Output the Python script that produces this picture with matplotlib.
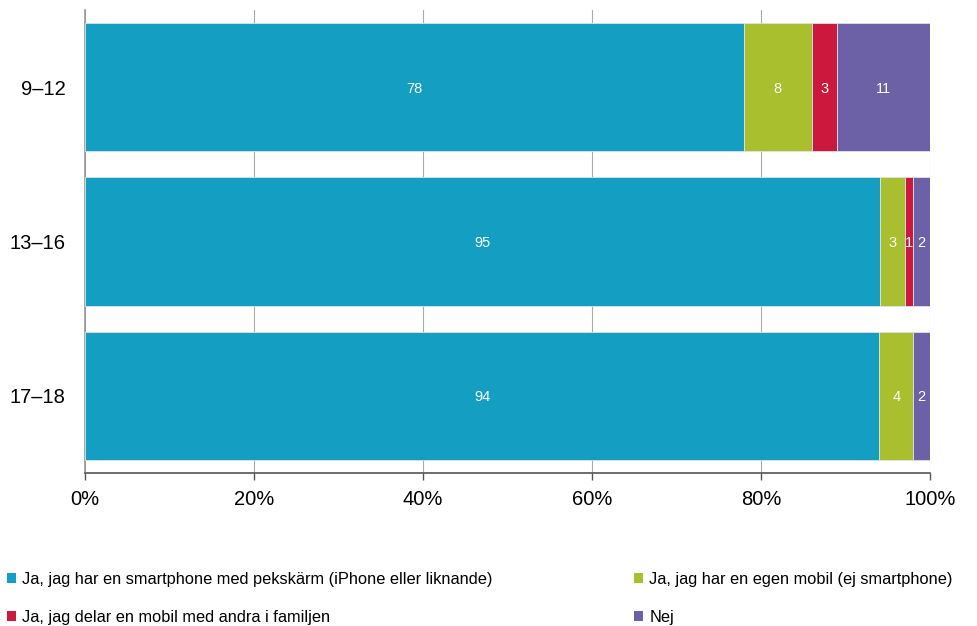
import numpy as np
import matplotlib
matplotlib.use("Agg")
import matplotlib.pyplot as plt
from matplotlib.patches import Patch

plt.rcParams['font.family'] = ['Liberation Sans', 'DejaVu Sans']

groups = ["9–12", "13–16", "17–18"]
series = ["Ja, jag har en smartphone med pekskärm (iPhone eller liknande)",
          "Ja, jag har en egen mobil (ej smartphone)",
          "Ja, jag delar en mobil med andra i familjen",
          "Nej"]
smartphone = [78, 95, 94]
egen_mobil = [8, 3, 4]
delar = [3, 1, 0]
nej = [11, 2, 2]
colors = ['#149ec1', '#a9bf2e', '#cc183c', '#6c60a6']

values = np.array([smartphone, egen_mobil, delar, nej], dtype=float)
shares = values / values.sum(axis=0) * 100

fig = plt.figure(figsize=(9.78, 6.26), dpi=100)
ax = fig.add_axes([85/978, 153/626, 845/978, 463/626])

y = np.arange(len(groups))
left = np.zeros(len(groups))
for i in range(len(series)):
    ax.barh(y, shares[i], left=left, height=0.83, color=colors[i],
            edgecolor='#dde3ea', linewidth=0.6, zorder=3)
    for j in range(len(groups)):
        if values[i, j] > 0:
            ax.text(left[j] + shares[i, j] / 2, y[j] + 0.01, "%d" % values[i, j],
                    ha='center', va='center', color='white', fontsize=10.5, zorder=4)
    left += shares[i]

ax.set_xlim(0, 100)
ax.set_ylim(2.5, -0.5)
ax.set_yticks(y)
ax.set_yticklabels(groups, fontsize=14.5)
ax.tick_params(axis='y', length=0, pad=14)
ax.set_xticks(np.arange(0, 101, 20))
ax.set_xticklabels(["%d%%" % v for v in range(0, 101, 20)], fontsize=14.5)
ax.tick_params(axis='x', length=5, width=1, color='#555555', pad=7)
ax.grid(axis='x', color='#aaaaaa', linewidth=0.8, zorder=0)
for s in ['top', 'right']:
    ax.spines[s].set_visible(False)
ax.spines['left'].set_color('#999999')
ax.spines['left'].set_linewidth(1.2)
ax.spines['bottom'].set_color('#555555')
ax.spines['bottom'].set_linewidth(1.2)

# legend fills column-wise, so order the entries to read row by row
order = [0, 2, 1, 3]
handles = [Patch(facecolor=colors[k], edgecolor='none') for k in order]
labels = [series[k] for k in order]
fig.legend(handles, labels, loc='lower left', bbox_to_anchor=(-0.008, -0.022),
           ncol=2, frameon=False, fontsize=11.8, handlelength=0.55, handleheight=0.55,
           handletextpad=0.4, columnspacing=8.6, labelspacing=1.4)

plt.savefig('out.png', dpi=100)
